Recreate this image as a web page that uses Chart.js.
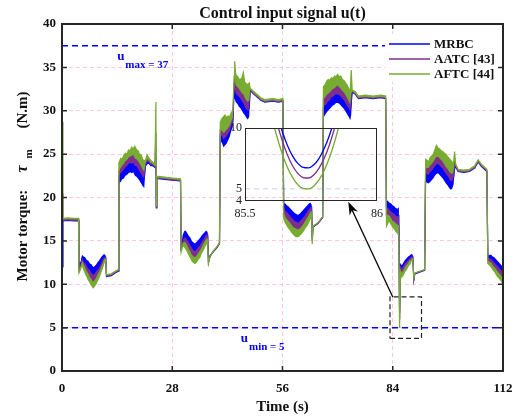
<!DOCTYPE html>
<html lang="en">
<head>
  <meta charset="UTF-8">
  <title>Control input signal u(t)</title>
  <style>
    body { margin: 0; background: #fff; }
    #wrap { position: relative; width: 520px; height: 420px; }
    #zoomBox { position: absolute; left: 225px; top: 118px; width: 165px; height: 105px; }
  </style>
</head>
<body>
  <div id="wrap">
    <canvas id="graphic" width="520" height="420"></canvas>
    <div id="zoomBox"><canvas id="zoom" width="165" height="105"></canvas></div>
  </div>

  <script src="https://cdn.jsdelivr.net/npm/chart.js"></script>

  <script>
    // time axis (s), one row per segment of the run
    const time = [
      0, 0.25, 1.5, 3.0, 4.2,
      4.3, 4.7, 5.1, 5.5, 5.9, 6.3, 6.7, 7.1, 7.5, 7.9, 8.3, 8.7, 9.1, 9.5, 9.9, 10.3, 10.7, 11.1,
      11.3, 12.5, 13.5, 14.3,
      14.45, 14.9, 15.3, 15.7, 16.1, 16.5, 16.9, 17.3, 17.7, 18.1, 18.5, 18.9, 19.3, 19.7, 20.1, 20.5, 20.9,
      21.2, 21.6, 22.0, 22.5, 23.0, 23.6, 23.85, 23.95, 24.1, 26.0, 28.0, 30.1,
      30.25, 30.6, 31.0, 31.4, 31.8, 32.2, 32.6, 33.0, 33.4, 33.8, 34.2, 34.6, 35.0, 35.4, 35.8, 36.2, 36.6, 37.0,
      37.2, 37.6, 38.5, 39.3, 40.0,
      40.2, 40.6, 41.0, 41.4, 41.8, 42.2, 42.6, 43.0, 43.4,
      43.7, 43.85, 44.1, 44.5, 44.9, 45.3, 45.7, 46.05, 46.4, 46.8, 47.2, 47.55,
      47.8, 48.5, 49.5, 50.5, 51.5, 53.5, 55.0, 56.1,
      56.3, 56.7, 57.1, 57.5, 57.9, 58.3, 58.7, 59.1, 59.5, 59.9, 60.3, 60.7, 61.1, 61.5, 61.9, 62.3, 62.7, 63.1, 63.4,
      63.55, 63.75, 65.0, 66.2,
      66.4, 66.8, 67.2, 67.6, 68.0, 68.4, 68.8, 69.2, 69.6, 70.0, 70.4, 70.8, 71.2, 71.6, 72.0, 72.4, 72.8, 73.2, 73.45,
      73.7, 74.5, 75.3, 77.0, 79.0, 81.0, 82.2,
      82.4, 82.8, 83.2, 83.6, 84.0, 84.4, 84.8, 85.2, 85.55, 85.74, 85.95,
      86.3, 86.7, 87.1, 87.5, 87.9, 88.3, 88.7, 89.1,
      89.35, 89.6, 90.8, 92.1,
      92.35, 92.7, 93.1, 93.5, 93.9, 94.3, 94.7, 95.1, 95.5, 95.9, 96.3, 96.7, 97.1, 97.5, 97.9, 98.3, 98.7, 99.1, 99.45, 99.7,
      100.0, 100.6, 102.0, 103.5, 104.8, 105.7, 106.5, 107.9,
      108.15, 108.6, 109.0, 109.4, 109.8, 110.2, 110.6, 111.0, 111.4, 111.8, 112.0
    ];

    // inner edge shared by the three chattering bands (N.m)
    const innerEdge = [
      17.4, 17.3, 17.35, 17.3, 17.3,
      12.6, 12.5, 13.4, 13.2, 13.1, 12.8, 12.7, 12.4, 12.3, 12.0, 12.1, 12.3, 12.6, 12.8, 13.1, 13.3, 13.5, 13.3,
      10.9, 11.0, 11.3, 11.5,
      21.6, 21.8, 22.1, 22.2, 22.5, 22.6, 22.8, 22.9, 22.8, 22.9, 22.5, 22.4, 22.2, 21.9, 21.6, 21.3, 21.1,
      23.5, 23.8, 23.9, 23.6, 23.6, 23.4, 23.2, 18.7, 22.2, 22.1, 22.0, 21.9,
      14.0, 15.6, 16.1, 16.2, 15.9, 15.6, 15.4, 15.0, 14.8, 14.7, 14.9, 15.1, 15.3, 15.6, 15.8, 16.0, 16.2, 16.0,
      12.7, 13.4, 13.8, 14.2, 14.7,
      26.5, 26.3, 25.8, 26.0, 26.2, 26.6, 27.0, 27.7, 28.2,
      31.3, 31.4, 31.0, 30.8, 30.5, 30.3, 30.0, 29.7, 29.5, 29.2, 29.0, 29.3,
      32.3, 32.0, 31.6, 31.2, 31.0, 31.1, 31.0, 31.1,
      19.4, 19.3, 19.1, 19.0, 18.8, 18.6, 18.4, 18.2, 18.1, 18.0, 18.1, 18.3, 18.5, 18.7, 18.9, 19.1, 19.3, 19.4, 19.2,
      15.5, 16.6, 17.0, 17.7,
      29.2, 29.5, 29.8, 30.0, 30.2, 30.4, 30.6, 30.7, 30.9, 30.9, 30.8, 30.6, 30.4, 30.2, 29.9, 29.6, 29.3, 28.9, 29.5,
      32.1, 31.9, 31.4, 31.5, 31.4, 31.5, 31.4,
      19.7, 19.6, 19.4, 19.3, 19.1, 19.0, 18.8, 18.7, 18.9, 6.7, 12.4,
      12.2, 12.5, 12.8, 13.0, 13.2, 13.3, 13.5, 13.4,
      10.5, 11.2, 11.4, 11.6,
      21.8, 21.7, 21.6, 21.8, 22.0, 22.2, 22.5, 22.7, 22.8, 22.6, 22.4, 22.2, 21.9, 21.6, 21.4, 21.1, 20.9, 21.0, 21.5, 23.0,
      23.5, 23.0, 22.9, 23.0, 23.4, 24.1, 23.6, 23.0,
      13.3, 13.4, 13.4, 13.2, 13.1, 12.9, 12.7, 12.5, 12.3, 12.1, 12.0
    ];

    // outer edge of each controller's band (N.m)
    const mrbcEdge = [
      12.0, 17.3, 17.35, 17.3, 17.3,
      11.9, 12.2, 13.0, 12.6, 12.4, 12.1, 11.8, 11.6, 11.3, 11.1, 11.2, 11.5, 11.7, 12.0, 12.4, 12.8, 13.1, 13.1,
      10.9, 11.0, 11.3, 11.5,
      22.4, 22.8, 23.0, 23.2, 23.5, 23.6, 23.9, 24.0, 23.9, 24.0, 23.7, 23.6, 23.3, 23.0, 22.7, 22.4, 22.2,
      23.7, 24.1, 24.1, 23.8, 23.7, 23.5, 25.0, 18.8, 22.2, 22.1, 22.0, 21.9,
      13.9, 15.0, 15.4, 15.4, 15.1, 14.8, 14.5, 14.2, 13.9, 13.8, 14.0, 14.3, 14.5, 14.8, 15.1, 15.4, 15.7, 15.7,
      12.6, 13.3, 13.8, 14.2, 14.7,
      27.2, 27.1, 26.7, 26.9, 27.1, 27.4, 27.7, 28.3, 28.7,
      32.3, 32.6, 32.0, 31.8, 31.6, 31.4, 31.1, 30.9, 30.5, 30.2, 30.0, 30.3,
      32.35, 32.0, 31.6, 31.2, 31.0, 31.1, 31.0, 31.1,
      18.9, 18.5, 18.3, 18.1, 17.9, 17.7, 17.5, 17.3, 17.2, 17.1, 17.2, 17.4, 17.6, 17.8, 18.1, 18.4, 18.6, 18.9, 18.9,
      15.3, 16.6, 17.0, 17.7,
      30.4, 30.6, 30.8, 31.1, 31.2, 31.5, 31.6, 31.8, 31.9, 31.9, 31.8, 31.6, 31.4, 31.2, 30.9, 30.6, 30.3, 29.9, 30.8,
      32.15, 31.9, 31.4, 31.5, 31.4, 31.5, 31.4,
      18.9, 18.8, 18.6, 18.4, 18.2, 18.1, 17.9, 17.8, 17.9, 6.7, 12.2,
      11.8, 12.1, 12.4, 12.6, 12.8, 13.0, 13.2, 13.2,
      10.5, 11.2, 11.4, 11.6,
      22.8, 22.7, 22.6, 22.9, 23.1, 23.3, 23.6, 23.8, 23.9, 23.7, 23.5, 23.3, 23.0, 22.7, 22.5, 22.2, 21.9, 21.9, 22.3, 23.5,
      23.55, 23.0, 22.9, 23.0, 23.4, 24.1, 23.6, 23.0,
      13.0, 13.0, 12.9, 12.7, 12.5, 12.3, 12.1, 11.9, 11.7, 11.5, 11.4
    ];

    const aatcEdge = [
      20.5, 17.45, 17.5, 17.45, 17.45,
      11.6, 12.0, 12.7, 12.3, 11.9, 11.5, 11.2, 10.8, 10.6, 10.3, 10.5, 10.8, 11.2, 11.5, 12.0, 12.4, 12.9, 13.0,
      11.0, 11.1, 11.4, 11.6,
      23.0, 23.4, 23.7, 23.9, 24.2, 24.3, 24.6, 24.7, 24.8, 24.9, 24.5, 24.4, 24.2, 23.9, 23.6, 23.2, 23.0,
      23.9, 24.4, 24.3, 24.0, 23.9, 23.6, 27.5, 18.9, 22.3, 22.2, 22.1, 22.0,
      13.8, 14.7, 14.9, 14.8, 14.5, 14.1, 13.8, 13.4, 13.2, 13.1, 13.3, 13.6, 13.9, 14.2, 14.6, 14.9, 15.2, 15.4,
      12.5, 13.2, 13.8, 14.25, 14.75,
      27.8, 27.7, 27.4, 27.6, 27.8, 28.0, 28.3, 28.8, 29.2,
      33.2, 33.8, 32.9, 32.8, 32.5, 32.3, 32.0, 31.9, 31.5, 31.2, 31.0, 31.2,
      32.45, 32.1, 31.7, 31.3, 31.1, 31.2, 31.1, 31.2,
      18.3, 17.8, 17.5, 17.3, 17.1, 16.9, 16.6, 16.5, 16.4, 16.3, 16.4, 16.6, 16.8, 17.1, 17.4, 17.7, 18.0, 18.4, 18.5,
      15.0, 16.6, 17.05, 17.75,
      31.4, 31.5, 31.8, 32.0, 32.1, 32.3, 32.5, 32.6, 32.8, 32.9, 32.7, 32.5, 32.3, 32.1, 31.8, 31.5, 31.1, 30.7, 32.0,
      32.25, 32.0, 31.5, 31.6, 31.5, 31.6, 31.5,
      18.0, 18.0, 17.9, 17.6, 17.3, 17.2, 17.0, 16.9, 16.8, 5.9, 11.8,
      11.3, 11.6, 12.0, 12.2, 12.5, 12.7, 12.9, 13.0,
      10.6, 11.25, 11.45, 11.65,
      23.5, 23.4, 23.4, 23.7, 23.9, 24.1, 24.4, 24.7, 24.7, 24.5, 24.3, 24.1, 23.8, 23.5, 23.3, 23.0, 22.8, 22.7, 23.0, 24.2,
      23.65, 23.1, 23.0, 23.1, 23.5, 24.2, 23.7, 23.1,
      12.7, 12.6, 12.5, 12.2, 12.0, 11.8, 11.5, 11.3, 11.1, 10.8, 10.7
    ];

    const aftcEdge = [
      28.7, 17.6, 17.65, 17.6, 17.6,
      11.3, 11.7, 12.3, 11.7, 11.3, 10.9, 10.5, 10.2, 9.9, 9.6, 9.8, 10.1, 10.5, 10.9, 11.4, 11.9, 12.5, 12.8,
      11.1, 11.2, 11.5, 11.7,
      24.0, 24.5, 24.4, 24.9, 25.1, 25.0, 25.5, 25.4, 25.8, 25.6, 25.9, 25.5, 25.4, 25.0, 24.9, 24.4, 24.2,
      24.3, 24.9, 24.6, 24.3, 24.1, 23.8, 31.0, 19.0, 22.45, 22.35, 22.25, 22.15,
      13.7, 14.3, 14.4, 14.1, 13.8, 13.4, 13.1, 12.7, 12.5, 12.4, 12.6, 12.9, 13.1, 13.6, 13.9, 14.3, 14.6, 15.0,
      12.4, 13.2, 13.9, 14.3, 14.8,
      28.7, 29.1, 29.3, 29.5, 29.2, 29.4, 29.3, 29.8, 30.0,
      34.0, 35.7, 34.2, 34.0, 33.7, 33.6, 33.8, 34.4, 33.3, 33.1, 33.0, 33.2,
      32.6, 32.3, 31.9, 31.5, 31.3, 31.4, 31.3, 31.4,
      17.6, 17.1, 16.8, 16.5, 16.3, 16.0, 15.8, 15.6, 15.5, 15.5, 15.6, 15.8, 16.0, 16.3, 16.6, 16.8, 17.2, 17.6, 18.0,
      14.6, 16.7, 17.1, 17.8,
      32.8, 33.0, 33.4, 33.6, 33.5, 33.8, 33.7, 34.0, 33.9, 34.2, 33.9, 34.0, 33.6, 33.5, 33.2, 33.0, 32.6, 32.1, 34.7,
      32.4, 32.2, 31.7, 31.8, 31.7, 31.8, 31.7,
      16.7, 17.1, 17.3, 16.9, 16.6, 16.4, 16.1, 15.9, 15.6, 5.0, 11.4,
      10.8, 11.1, 11.5, 11.7, 12.1, 12.3, 12.7, 12.9,
      10.7, 11.3, 11.5, 11.7,
      24.4, 24.3, 24.1, 24.6, 24.8, 25.0, 25.5, 26.0, 25.7, 25.6, 25.4, 25.3, 25.1, 25.0, 24.7, 24.5, 24.3, 24.1, 24.0, 25.3,
      23.8, 23.25, 23.15, 23.25, 23.65, 24.35, 23.85, 23.25,
      12.4, 12.2, 12.0, 11.7, 11.5, 11.2, 10.9, 10.7, 10.5, 10.2, 10.1
    ];

    // close-up around t = 85.74 s
    const zoomTime = [85.58, 85.60, 85.62, 85.64, 85.66, 85.68, 85.70, 85.72, 85.74, 85.76, 85.78, 85.80, 85.82, 85.84, 85.86, 85.88, 85.90];
    const zoomMrbc = [15.08, 13.03, 11.27, 9.80, 8.61, 7.71, 7.09, 6.76, 6.72, 6.96, 7.49, 8.31, 9.41, 10.80, 12.47, 14.44, 16.68];
    const zoomAatc = [14.41, 12.33, 10.53, 9.03, 7.82, 6.90, 6.27, 5.93, 5.89, 6.14, 6.68, 7.51, 8.63, 10.05, 11.76, 13.76, 16.05];
    const zoomAftc = [13.02, 11.06, 9.36, 7.95, 6.80, 5.94, 5.34, 5.03, 4.99, 5.22, 5.73, 6.51, 7.57, 8.91, 10.52, 12.40, 14.56];

    const seriesNames = ['MRBC', 'AATC [43]', 'AFTC [44]'];
    const seriesColors = ['#0000ff', '#7e2f8e', '#77ac30'];

    const timeTicks = [0, 28, 56, 84, 112];
    const torqueTicks = [0, 5, 10, 15, 20, 25, 30, 35, 40];
    const zoomTimeTicks = [85.5, 86];
    const zoomTorqueTicks = [4, 5, 10];

    const uMaxLevel = 37.5;
    const uMinLevel = 5;

    if ([innerEdge, mrbcEdge, aatcEdge, aftcEdge].some(a => a.length !== time.length)) {
      throw new Error('series length mismatch');
    }

    const serif = "'Liberation Serif', 'Times New Roman', serif";
    const ink = '#111';
    const gridPink = '#ffc5e3';

    const pts = (xs, ys) => xs.map((t, i) => ({ x: t, y: ys[i] }));
    const setTicks = list => scale => { scale.ticks = list.map(v => ({ value: v })); };
    // fixed box size, no extra room for the end labels
    const fixSize = (w, h) => scale => {
      if (w !== null) scale.width = w;
      if (h !== null) scale.height = h;
      scale.paddingLeft = 0;
      scale.paddingRight = 0;
      scale.paddingTop = 0;
      scale.paddingBottom = 0;
    };

    // letter with a bold subscript, like u_max
    function drawSub(ctx, main, sub, px, py, color) {
      ctx.fillStyle = color;
      ctx.textAlign = 'left';
      ctx.textBaseline = 'alphabetic';
      ctx.font = 'bold 13px ' + serif;
      ctx.fillText(main, px, py);
      const w = ctx.measureText(main).width;
      ctx.font = 'bold 11px ' + serif;
      ctx.fillText(sub, px + w + 1, py + 7.5);
    }

    const decor = {
      id: 'decor',
      afterDatasetsDraw(chart) {
        const { ctx, chartArea: a, scales: { x, y } } = chart;
        ctx.save();

        // legend
        ctx.fillStyle = '#fff';
        ctx.fillRect(a.right - 118, a.top + 10, 117, 48);
        seriesNames.forEach((name, i) => {
          const ly = a.top + 20 + i * 15;
          ctx.strokeStyle = seriesColors[i];
          ctx.lineWidth = 1.5;
          ctx.beginPath();
          ctx.moveTo(a.right - 114, ly);
          ctx.lineTo(a.right - 73, ly);
          ctx.stroke();
          ctx.fillStyle = ink;
          ctx.font = 'bold 13px ' + serif;
          ctx.textAlign = 'left';
          ctx.textBaseline = 'middle';
          ctx.fillText(name, a.right - 69, ly + 1);
        });

        // bound labels
        drawSub(ctx, 'u', 'max = 37', x.getPixelForValue(14), y.getPixelForValue(35.85), '#0000ff');
        drawSub(ctx, 'u', 'min = 5', x.getPixelForValue(45.4), y.getPixelForValue(3.3), '#0000ff');

        // arrow from the dashed window to the close-up
        const x0 = x.getPixelForValue(84.0), y0 = y.getPixelForValue(8.54);
        const x1 = x.getPixelForValue(72.7), y1 = y.getPixelForValue(19.5);
        const ang = Math.atan2(y1 - y0, x1 - x0);
        const cos = Math.cos(ang), sin = Math.sin(ang);
        ctx.strokeStyle = '#000';
        ctx.lineWidth = 1.3;
        ctx.beginPath();
        ctx.moveTo(x0, y0);
        ctx.lineTo(x1 - 8 * cos, y1 - 8 * sin);
        ctx.stroke();
        ctx.fillStyle = '#000';
        ctx.beginPath();
        ctx.moveTo(x1, y1);
        ctx.lineTo(x1 - 13 * cos + 4.5 * sin, y1 - 13 * sin - 4.5 * cos);
        ctx.lineTo(x1 - 9 * cos, y1 - 9 * sin);
        ctx.lineTo(x1 - 13 * cos - 4.5 * sin, y1 - 13 * sin + 4.5 * cos);
        ctx.closePath();
        ctx.fill();

        // box and inward ticks
        ctx.strokeStyle = '#262626';
        ctx.lineWidth = 2;
        ctx.strokeRect(a.left, a.top, a.right - a.left, a.bottom - a.top);
        ctx.lineWidth = 1.5;
        ctx.beginPath();
        torqueTicks.slice(1, -1).forEach(v => {
          const py = y.getPixelForValue(v);
          ctx.moveTo(a.left, py); ctx.lineTo(a.left + 5, py);
          ctx.moveTo(a.right - 5, py); ctx.lineTo(a.right, py);
        });
        timeTicks.slice(1, -1).forEach(v => {
          const px = x.getPixelForValue(v);
          ctx.moveTo(px, a.bottom); ctx.lineTo(px, a.bottom - 5);
          ctx.moveTo(px, a.top); ctx.lineTo(px, a.top + 5);
        });
        ctx.stroke();

        // title
        ctx.fillStyle = ink;
        ctx.font = 'bold 16px ' + serif;
        ctx.textAlign = 'center';
        ctx.textBaseline = 'alphabetic';
        ctx.fillText('Control input signal u(t)', (a.left + a.right) / 2, a.top - 6);

        // y axis title with subscript
        ctx.translate(27, (a.top + a.bottom) / 2 + 84);
        ctx.rotate(-Math.PI / 2);
        ctx.textAlign = 'left';
        ctx.font = 'bold 15px ' + serif;
        ctx.fillText('Motor torque:', 0, 0);
        ctx.font = 'italic bold 16px ' + serif;
        ctx.fillText('\u03c4', 109, 0);
        ctx.font = 'bold 11px ' + serif;
        ctx.fillText('m', 123, 4.5);
        ctx.font = 'bold 15px ' + serif;
        ctx.fillText('(N.m)', 153, 0);

        ctx.restore();
      }
    };

    // each band is filled from the next-inner edge: MRBC from the shared edge,
    // AATC from MRBC, AFTC from AATC; AFTC is painted last
    const lienzo = document.getElementById('graphic');
    const bandStyle = (i, target, order) => ({
      label: seriesNames[i],
      borderColor: seriesColors[i],
      backgroundColor: seriesColors[i],
      borderWidth: 1.2,
      pointRadius: 0,
      fill: target,
      order: order
    });

    new Chart(lienzo, {
      type: 'line',
      data: {
        datasets: [
          { ...bandStyle(0, 3, 3), data: pts(time, mrbcEdge) },
          { ...bandStyle(1, 0, 2), data: pts(time, aatcEdge) },
          { ...bandStyle(2, 1, 1), data: pts(time, aftcEdge) },
          { label: 'inner', data: pts(time, innerEdge), borderColor: 'rgba(0,0,0,0)', borderWidth: 1, pointRadius: 0, fill: false, order: 4 },
          { label: 'umax', data: [{ x: 0, y: uMaxLevel }, { x: 112, y: uMaxLevel }], borderColor: '#0000ff', borderWidth: 1.5, borderDash: [6, 4], pointRadius: 0, order: 5 },
          { label: 'umin', data: [{ x: 0, y: uMinLevel }, { x: 112, y: uMinLevel }], borderColor: '#0000ff', borderWidth: 1.5, borderDash: [6, 4], pointRadius: 0, order: 5 },
          {
            label: 'window',
            data: [{ x: 83.3, y: 3.75 }, { x: 91.3, y: 3.75 }, { x: 91.3, y: 8.54 }, { x: 83.3, y: 8.54 }, { x: 83.3, y: 3.75 }],
            borderColor: '#222', borderWidth: 1.2, borderDash: [5, 3], pointRadius: 0, order: 0
          }
        ]
      },
      options: {
        responsive: false,
        animation: false,
        devicePixelRatio: 1,
        layout: { padding: { top: 24, right: 17, left: 0, bottom: 0 } },
        plugins: { legend: { display: false }, tooltip: { enabled: false } },
        scales: {
          x: {
            type: 'linear', min: 0, max: 112,
            afterBuildTicks: setTicks(timeTicks),
            afterFit: fixSize(null, 49),
            ticks: { font: { family: serif, size: 13, weight: 'bold' }, color: ink, padding: 10, maxRotation: 0, autoSkip: false },
            grid: { color: gridPink, lineWidth: 1, drawTicks: false },
            border: { display: false, dash: [4, 3] },
            title: { display: true, text: 'Time (s)', font: { family: serif, size: 15, weight: 'bold' }, color: ink, padding: { top: 0, bottom: 4 } }
          },
          y: {
            min: 0, max: 40,
            afterBuildTicks: setTicks(torqueTicks),
            afterFit: fixSize(62, null),
            ticks: { font: { family: serif, size: 13, weight: 'bold' }, color: ink, padding: 6, autoSkip: false },
            grid: { color: gridPink, lineWidth: 1, drawTicks: false },
            border: { display: false, dash: [4, 3] }
          }
        }
      },
      plugins: [decor]
    });

    // close-up panel, transparent so the main plot shows through
    const frame = {
      id: 'frame',
      afterDatasetsDraw(chart) {
        const { ctx, chartArea: a } = chart;
        ctx.save();
        ctx.strokeStyle = '#262626';
        ctx.lineWidth = 1;
        ctx.strokeRect(a.left + 0.5, a.top + 0.5, a.right - a.left - 1, a.bottom - a.top - 1);
        ctx.restore();
      }
    };

    const zoomLine = (ys, i) => ({
      data: pts(zoomTime, ys),
      borderColor: seriesColors[i],
      borderWidth: 1.3,
      pointRadius: 0,
      cubicInterpolationMode: 'monotone'
    });

    new Chart(document.getElementById('zoom'), {
      type: 'line',
      data: {
        datasets: [
          zoomLine(zoomMrbc, 0),
          zoomLine(zoomAatc, 1),
          zoomLine(zoomAftc, 2),
          { data: [{ x: 85.5, y: uMinLevel }, { x: 86, y: uMinLevel }], borderColor: 'rgba(0,0,255,0.22)', borderWidth: 1, borderDash: [5, 4], pointRadius: 0 }
        ]
      },
      options: {
        responsive: false,
        animation: false,
        devicePixelRatio: 1,
        layout: { padding: { top: 10, right: 13, left: 0, bottom: 0 } },
        plugins: { legend: { display: false }, tooltip: { enabled: false } },
        scales: {
          x: {
            type: 'linear', min: 85.5, max: 86,
            afterBuildTicks: setTicks(zoomTimeTicks),
            afterFit: fixSize(null, 22),
            ticks: { font: { family: serif, size: 12 }, color: '#222', padding: 6, maxRotation: 0, autoSkip: false, callback: v => String(v) },
            grid: { display: false, drawTicks: false },
            border: { display: false }
          },
          y: {
            min: 4, max: 10,
            afterBuildTicks: setTicks(zoomTorqueTicks),
            afterFit: fixSize(20, null),
            ticks: { font: { family: serif, size: 12 }, color: '#222', padding: 3, autoSkip: false, callback: v => String(v) },
            grid: { display: false, drawTicks: false },
            border: { display: false }
          }
        }
      },
      plugins: [frame]
    });
  </script>
</body>
</html>
